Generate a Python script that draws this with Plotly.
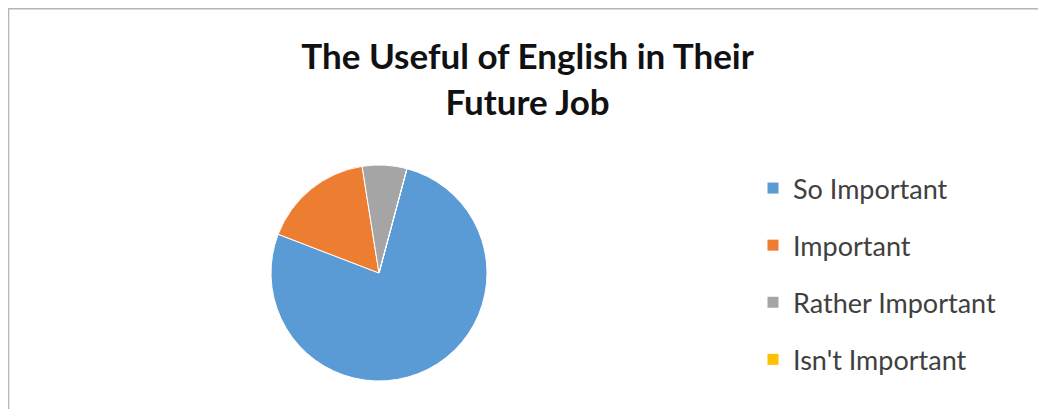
"""Pie chart: The Useful of English in Their Future Job."""

import plotly.graph_objects as go

# Data
LABELS = ["So Important", "Important", "Rather Important", "Isn't Important"]
VALUES = [23, 5, 2, 0]
COLORS = ["#5B9BD5", "#ED7D31", "#A5A5A5", "#FFC000"]

TITLE = "The Useful of English in Their<br>Future Job"

# The page adds an 8px body margin, so the figure is sized to fit inside it
W, H = 1030, 401

fig = go.Figure()

fig.add_trace(
    go.Pie(
        labels=LABELS,
        values=VALUES,
        marker=dict(colors=COLORS, line=dict(color="white", width=1)),
        sort=False,
        direction="clockwise",
        rotation=15,
        textinfo="none",
        hoverinfo="label+value+percent",
        showlegend=False,
        domain=dict(x=[263 / W, 479 / W], y=[(H - 373) / H, (H - 157) / H]),
    )
)

# Legend entries (one group per category so the rows can be spaced out)
for label, color in zip(LABELS, COLORS):
    fig.add_trace(
        go.Scatter(
            x=[None],
            y=[None],
            mode="markers",
            marker=dict(symbol="square", size=11, color=color),
            name=label,
            legendgroup=label,
            hoverinfo="skip",
        )
    )

fig.update_layout(
    width=W,
    height=H,
    margin=dict(l=0, r=0, t=0, b=0),
    paper_bgcolor="white",
    plot_bgcolor="white",
    xaxis=dict(visible=False),
    yaxis=dict(visible=False),
    title=dict(
        text=TITLE,
        x=0.5044,
        xanchor="center",
        y=(H - 61) / H,
        yanchor="top",
        font=dict(family="Lato", size=35, color="#111111", weight="bold"),
    ),
    legend=dict(
        x=745 / W,
        xanchor="left",
        y=(H - 156) / H,
        yanchor="top",
        font=dict(family="Lato", size=27, color="#404040"),
        tracegroupgap=19,
        itemclick=False,
        bgcolor="rgba(0,0,0,0)",
    ),
    shapes=[
        dict(
            type="rect",
            xref="paper",
            yref="paper",
            x0=0.5 / W,
            x1=1.02,
            y0=-0.05,
            y1=(H - 0.75) / H,
            line=dict(color="#B5B5B5", width=1.5),
            fillcolor="rgba(0,0,0,0)",
            layer="below",
        )
    ],
)

fig.write_html("out.html")
